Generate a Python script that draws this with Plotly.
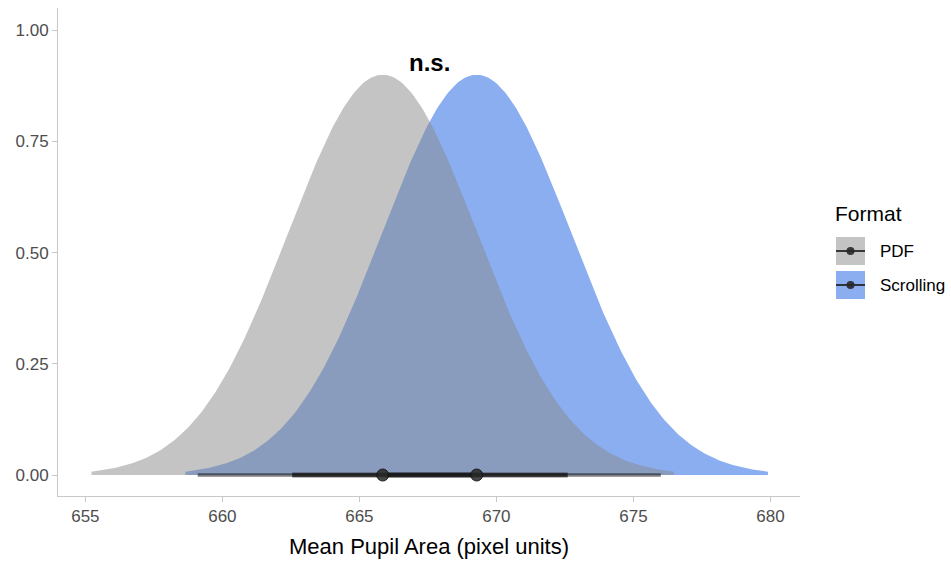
import numpy as np
import plotly.graph_objects as go

# ---- data ----
formats = ["PDF", "Scrolling"]
means = [665.85, 669.28]
sds = [3.44, 3.44]
thin_lo = [659.1, 662.55]      # 95% interval
thin_hi = [672.6, 676.0]
thick_lo = [662.55, 665.98]    # 66% interval
thick_hi = [669.15, 672.6]
slab_max = 0.9
x_ticks = [655, 660, 665, 670, 675, 680]
y_ticks = [0.0, 0.25, 0.5, 0.75, 1.0]
y_tick_text = ["0.00", "0.25", "0.50", "0.75", "1.00"]
fill_colors = {"PDF": "rgba(137,137,137,0.5)", "Scrolling": "rgb(138,174,240)"}
legend_colors = {"PDF": "rgb(196,196,196)", "Scrolling": "rgb(138,174,240)"}

W, H = 951, 562
L, R, T, B = 58, 800, 8, 496

fig = go.Figure()

# density slabs (Scrolling first, PDF semi-transparent on top)
for name in ["Scrolling", "PDF"]:
    i = formats.index(name)
    m, s = means[i], sds[i]
    xs = np.linspace(m - 3.09 * s, m + 3.09 * s, 300)
    dens = np.exp(-0.5 * ((xs - m) / s) ** 2)
    ys = slab_max * dens / dens.max()
    fig.add_trace(go.Scatter(
        x=np.concatenate([xs, xs[::-1]]),
        y=np.concatenate([ys, np.zeros_like(ys)]),
        fill="toself", fillcolor=fill_colors[name],
        line=dict(width=0), mode="lines", showlegend=False, hoverinfo="skip"))

# point intervals
for i, name in enumerate(formats):
    fig.add_trace(go.Scatter(x=[thin_lo[i], thin_hi[i]], y=[0, 0], mode="lines",
                             line=dict(color="rgba(20,20,20,0.55)", width=3.5),
                             showlegend=False, hoverinfo="skip"))
    fig.add_trace(go.Scatter(x=[thick_lo[i], thick_hi[i]], y=[0, 0], mode="lines",
                             line=dict(color="rgba(20,20,20,0.55)", width=5),
                             showlegend=False, hoverinfo="skip"))
for i, name in enumerate(formats):
    fig.add_trace(go.Scatter(x=[means[i]], y=[0], mode="markers",
                             marker=dict(size=12, color="rgba(40,40,40,0.85)",
                                         line=dict(width=1, color="rgba(20,20,20,0.9)")),
                             showlegend=False, hoverinfo="skip"))

# n.s. annotation
fig.add_annotation(x=(means[0] + means[1]) / 2, y=0.928, text="<b>n.s.</b>",
                   showarrow=False, font=dict(size=24, color="black"),
                   xanchor="center", yanchor="middle")

# manual legend
def px(x):
    return (x - L) / (R - L)

def py(y):
    return (B - y) / (B - T)

fig.add_annotation(x=px(833), y=py(213), xref="paper", yref="paper", text="Format",
                   showarrow=False, xanchor="left", yanchor="middle",
                   font=dict(size=21, color="black"))
box_tops = [237, 271]
for i, name in enumerate(formats):
    top = box_tops[i]
    fig.add_shape(type="rect", xref="paper", yref="paper",
                  x0=px(836), x1=px(865), y0=py(top), y1=py(top + 28),
                  fillcolor=legend_colors[name], line=dict(width=0))
    cy = top + 14
    fig.add_shape(type="line", xref="paper", yref="paper",
                  x0=px(836), x1=px(865), y0=py(cy), y1=py(cy),
                  line=dict(color="rgba(30,30,30,0.85)", width=2))
    fig.add_shape(type="circle", xref="paper", yref="paper",
                  x0=px(846.5), x1=px(854.5), y0=py(cy - 4), y1=py(cy + 4),
                  fillcolor="rgba(40,40,40,0.9)", line=dict(width=0))
    fig.add_annotation(x=px(878), y=py(cy), xref="paper", yref="paper", text=name,
                       showarrow=False, xanchor="left", yanchor="middle",
                       font=dict(size=17, color="black"))

fig.update_layout(
    width=W, height=H,
    margin=dict(l=L, r=W - R, t=T, b=H - B),
    paper_bgcolor="white", plot_bgcolor="white",
    font=dict(family="Liberation Sans, Arial, sans-serif"),
    showlegend=False,
)
fig.update_xaxes(range=[654.0, 681.08], tickvals=x_ticks,
                 showgrid=False, zeroline=False,
                 showline=True, linecolor="#c8c8c8", linewidth=1,
                 ticks="outside", ticklen=5, tickcolor="#c8c8c8",
                 tickfont=dict(size=17, color="#4d4d4d"),
                 title=dict(text="Mean Pupil Area (pixel units)",
                            font=dict(size=22, color="black"), standoff=13))
fig.update_yaxes(range=[-0.0472, 1.05], tickvals=y_ticks, ticktext=y_tick_text,
                 showgrid=False, zeroline=False,
                 showline=True, linecolor="#c8c8c8", linewidth=1,
                 ticks="outside", ticklen=5, tickcolor="#c8c8c8",
                 tickfont=dict(size=17, color="#4d4d4d"))

fig.write_html("out.html")
